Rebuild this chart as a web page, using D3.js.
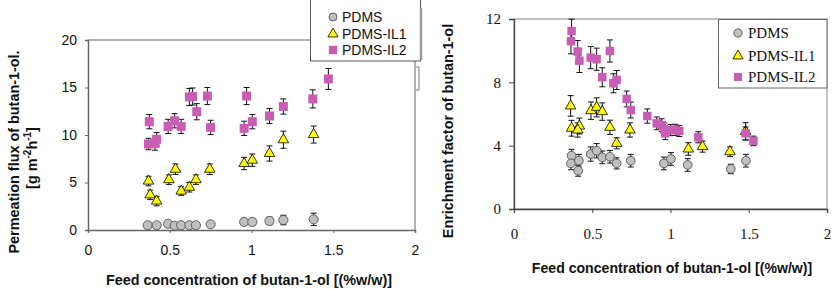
<!DOCTYPE html>
<html><head><meta charset="utf-8">
<script src="https://cdn.jsdelivr.net/npm/d3@7"></script>
<style>
html,body{margin:0;padding:0;background:#fff;}
svg{display:block;}
</style></head>
<body>
<svg id="chart" width="834" height="289"></svg>
<script>
// ---------- DATA ----------
const seriesNames = ["PDMS", "PDMS-IL1", "PDMS-IL2"];
const xTicks = [0, 0.5, 1, 1.5, 2];
const xTickLabels = ["0", "0.5", "1", "1.5", "2"];
const fluxTicks = [0, 5, 10, 15, 20];
const enrichTicks = [0, 4, 8, 12];

// Left panel: permeation flux
const fluxPDMS_x = [0.365,0.42,0.49,0.53,0.57,0.62,0.66,0.75,0.955,1.005,1.11,1.195,1.38];
const fluxPDMS_y = [0.5,0.5,0.65,0.45,0.5,0.5,0.5,0.6,0.85,0.85,0.95,1.05,1.12];
const fluxPDMS_e = [0.15,0.15,0.15,0.15,0.15,0.15,0.15,0.2,0.3,0.35,0.4,0.5,0.65];

const fluxIL1_x = [0.37,0.38,0.42,0.495,0.535,0.57,0.62,0.66,0.745,0.955,1.005,1.11,1.195,1.38];
const fluxIL1_y = [5.15,3.7,3.05,5.3,6.4,4.1,4.5,5.3,6.4,7.0,7.35,8.05,9.5,10.05];
const fluxIL1_e = [0.5,0.5,0.5,0.5,0.55,0.45,0.5,0.5,0.55,0.65,0.65,0.8,0.9,0.9];

const fluxIL2_x = [0.37,0.375,0.41,0.42,0.49,0.53,0.57,0.62,0.64,0.665,0.73,0.75,0.955,0.97,1.005,1.11,1.195,1.375,1.47];
const fluxIL2_y = [9.05,11.4,9.1,9.55,10.9,11.5,10.9,14.0,14.05,12.45,14.1,10.8,10.7,14.1,11.4,12.0,13.0,13.8,15.9];
const fluxIL2_e = [0.6,0.75,0.7,0.7,0.75,0.75,0.75,0.9,0.9,0.85,0.9,0.75,0.75,0.9,0.75,0.8,0.8,0.95,1.1];

// Right panel: enrichment factor
const enrPDMS_x = [0.368,0.364,0.415,0.41,0.49,0.528,0.564,0.613,0.656,0.746,0.958,1.003,1.11,1.385,1.482];
const enrPDMS_y = [3.37,2.88,3.05,2.42,3.47,3.68,3.26,3.3,2.88,3.05,2.88,3.16,2.78,2.53,3.05];
const enrPDMS_e = [0.4,0.4,0.4,0.35,0.45,0.45,0.4,0.4,0.35,0.4,0.4,0.4,0.4,0.3,0.4];

const enrIL1_x = [0.362,0.368,0.418,0.407,0.492,0.528,0.564,0.613,0.656,0.741,1.114,1.205,1.38,1.48];
const enrIL1_y = [6.51,5.1,5.24,4.99,6.21,6.42,6.15,5.16,4.15,4.99,3.79,3.94,3.62,4.9];
const enrIL1_e = [0.65,0.5,0.5,0.45,0.55,0.6,0.55,0.45,0.35,0.45,0.4,0.35,0.3,0.55];

const enrIL2_x = [0.368,0.364,0.407,0.418,0.49,0.528,0.564,0.613,0.635,0.656,0.72,0.746,0.852,0.912,0.944,0.96,0.967,1.0,1.03,1.056,1.178,1.48,1.53];
const enrIL2_y = [11.24,10.6,9.94,9.37,9.56,9.46,8.32,9.98,7.94,8.15,6.95,6.25,5.87,5.41,5.3,5.03,4.78,4.99,5.0,4.93,4.53,4.78,4.3];
const enrIL2_e = [0.75,0.8,0.7,0.75,0.7,0.7,0.6,0.7,0.6,0.6,0.5,0.5,0.45,0.4,0.4,0.4,0.4,0.35,0.35,0.35,0.35,0.4,0.3];

// ---------- DRAWING ----------
const svg = d3.select("#chart");
const COL = { PDMS: "#c0c0c0", IL1: "#ffff00", IL2: "#c95db5" };

function zip(xs, ys, es) { return xs.map((x, i) => ({ x, y: ys[i], e: es[i] })); }

function drawSeries(g, xs, ys, data, kind, size) {
  const eb = g.append("g");
  data.forEach(d => {
    const x = xs(d.x), y1 = ys(d.y - d.e), y2 = ys(d.y + d.e);
    eb.append("line").attr("x1", x).attr("x2", x).attr("y1", y1).attr("y2", y2).attr("stroke", "#111").attr("stroke-width", 1);
    [y1, y2].forEach(yy => eb.append("line").attr("x1", x - 3).attr("x2", x + 3).attr("y1", yy).attr("y2", yy).attr("stroke", "#111").attr("stroke-width", 1));
  });
  const sym = d3.symbol().type(kind === "c" ? d3.symbolCircle : kind === "t" ? d3.symbolTriangle : d3.symbolSquare).size(size);
  g.append("g").selectAll("path").data(data).join("path")
    .attr("d", sym)
    .attr("transform", d => `translate(${xs(d.x)},${ys(d.y)})`)
    .attr("fill", kind === "c" ? COL.PDMS : kind === "t" ? COL.IL1 : COL.IL2)
    .attr("stroke", kind === "c" ? "#444" : kind === "t" ? "#000" : "none")
    .attr("stroke-width", 0.8);
}

function legendMarker(g, kind, x, y, size) {
  const sym = d3.symbol().type(kind === "c" ? d3.symbolCircle : kind === "t" ? d3.symbolTriangle : d3.symbolSquare).size(size);
  g.append("path").attr("d", sym).attr("transform", `translate(${x},${y})`)
    .attr("fill", kind === "c" ? COL.PDMS : kind === "t" ? COL.IL1 : COL.IL2)
    .attr("stroke", kind === "c" ? "#444" : kind === "t" ? "#000" : "none").attr("stroke-width", 0.8);
}

// ===== LEFT PANEL =====
{
  const sans = "Liberation Sans, Arial, sans-serif";
  const x = d3.scaleLinear().domain([0, 2]).range([88, 415]);
  const y = d3.scaleLinear().domain([0, 20]).range([230, 40]);
  const g = svg.append("g");

  g.append("line").attr("x1", x(0)).attr("x2", x(2)).attr("y1", y(20)).attr("y2", y(20)).attr("stroke", "#666").attr("stroke-width", 1);
  g.append("line").attr("x1", x(2)).attr("x2", x(2)).attr("y1", y(20)).attr("y2", y(0)).attr("stroke", "#666").attr("stroke-width", 1);

  const xa = g.append("g").attr("transform", `translate(0,${y(0)})`)
    .call(d3.axisBottom(x).tickValues(xTicks).tickFormat((d, i) => xTickLabels[i]).tickSizeOuter(0).tickSize(3).tickPadding(12));
  const ya = g.append("g").attr("transform", `translate(${x(0)},0)`)
    .call(d3.axisLeft(y).tickValues(fluxTicks).tickSizeOuter(0).tickSize(3).tickPadding(8));
  [xa, ya].forEach(a => {
    a.select(".domain").attr("stroke", "#666").attr("stroke-width", 1.5);
    a.selectAll(".tick line").attr("stroke", "#666");
    a.selectAll("text").attr("font-family", sans).attr("font-size", 14).attr("fill", "#111");
  });

  drawSeries(g, x, y, zip(fluxPDMS_x, fluxPDMS_y, fluxPDMS_e), "c", 66);
  drawSeries(g, x, y, zip(fluxIL1_x, fluxIL1_y, fluxIL1_e), "t", 48);
  drawSeries(g, x, y, zip(fluxIL2_x, fluxIL2_y, fluxIL2_e), "s", 81);

  g.append("text").attr("x", 249).attr("y", 285).attr("text-anchor", "middle")
    .attr("font-family", sans).attr("font-weight", "bold").attr("font-size", 14.4).attr("fill", "#111")
    .text("Feed concentration of butan-1-ol [(%w/w)]");
  g.append("text").attr("transform", "translate(19,152) rotate(-90)").attr("text-anchor", "middle")
    .attr("font-family", sans).attr("font-weight", "bold").attr("font-size", 14.4).attr("fill", "#111")
    .text("Permeation flux of butan-1-ol.");
  const t2 = g.append("text").attr("transform", "translate(37,158) rotate(-90)").attr("text-anchor", "middle")
    .attr("font-family", sans).attr("font-weight", "bold").attr("font-size", 14.4).attr("fill", "#111");
  t2.append("tspan").text("[g m");
  t2.append("tspan").attr("dy", -6).attr("font-size", 10).text("-2");
  t2.append("tspan").attr("dy", 6).text("h");
  t2.append("tspan").attr("dy", -6).attr("font-size", 10).text("-1");
  t2.append("tspan").attr("dy", 6).text("]");

  const lg = g.append("g");
  lg.append("rect").attr("x", 310.5).attr("y", -2).attr("width", 110).attr("height", 63).attr("fill", "#fff").attr("stroke", "#555").attr("stroke-width", 1);
  lg.append("line").attr("x1", 421).attr("x2", 421).attr("y1", 8).attr("y2", 60).attr("stroke", "#999").attr("stroke-width", 2.5);
  const ly = [17, 34, 50], kinds = ["c", "t", "s"], sz = [50, 45, 70];
  seriesNames.forEach((n, i) => {
    legendMarker(lg, kinds[i], 333, ly[i], sz[i]);
    lg.append("text").attr("x", 342).attr("y", ly[i] + 5).attr("font-family", sans).attr("font-size", 14).attr("fill", "#111").text(n);
  });
  g.append("path").attr("d", "M416,67 H419 V90 H416").attr("fill", "none").attr("stroke", "#777").attr("stroke-width", 1);
}

// ===== RIGHT PANEL =====
{
  const serif = "Liberation Serif, Times New Roman, serif";
  const sans = "Liberation Sans, Arial, sans-serif";
  const x = d3.scaleLinear().domain([0, 2]).range([514, 827]);
  const y = d3.scaleLinear().domain([0, 12]).range([209, 19]);
  const g = svg.append("g");

  g.append("rect").attr("x", x(0)).attr("y", y(12)).attr("width", x(2) - x(0)).attr("height", y(0) - y(12))
    .attr("fill", "none").attr("stroke", "#888").attr("stroke-width", 1);

  const xa = g.append("g").attr("transform", `translate(0,${y(0)})`)
    .call(d3.axisBottom(x).tickValues(xTicks).tickFormat((d, i) => xTickLabels[i]).tickSizeOuter(0).tickSize(4).tickPadding(15));
  const ya = g.append("g").attr("transform", `translate(${x(0)},0)`)
    .call(d3.axisLeft(y).tickValues(enrichTicks).tickSizeOuter(0).tickSize(5).tickPadding(8));
  [xa, ya].forEach(a => {
    a.select(".domain").attr("stroke", "#444").attr("stroke-width", 1.3);
    a.selectAll(".tick line").attr("stroke", "#444");
    a.selectAll("text").attr("font-family", serif).attr("font-size", 15).attr("fill", "#111");
  });

  drawSeries(g, x, y, zip(enrPDMS_x, enrPDMS_y, enrPDMS_e), "c", 60);
  drawSeries(g, x, y, zip(enrIL1_x, enrIL1_y, enrIL1_e), "t", 48);
  drawSeries(g, x, y, zip(enrIL2_x, enrIL2_y, enrIL2_e), "s", 72);

  g.append("text").attr("x", 672).attr("y", 273).attr("text-anchor", "middle")
    .attr("font-family", sans).attr("font-weight", "bold").attr("font-size", 14.1).attr("fill", "#111")
    .text("Feed concentration of butan-1-ol [(%w/w)]");
  g.append("text").attr("transform", "translate(453,131) rotate(-90)").attr("text-anchor", "middle")
    .attr("font-family", sans).attr("font-weight", "bold").attr("font-size", 14.4).attr("fill", "#111")
    .text("Enrichment factor of butan-1-ol");

  const lg = g.append("g");
  lg.append("rect").attr("x", 718.5).attr("y", 19.5).attr("width", 108.5).attr("height", 68.5).attr("fill", "#fff").attr("stroke", "#666").attr("stroke-width", 1);
  const ly = [33, 56, 77], kinds = ["c", "t", "s"], sz = [55, 45, 65];
  seriesNames.forEach((n, i) => {
    legendMarker(lg, kinds[i], 738, ly[i], sz[i]);
    lg.append("text").attr("x", 748).attr("y", ly[i] + 5).attr("font-family", serif).attr("font-size", 15).attr("fill", "#111").text(n);
  });
}
</script>
</body></html>
